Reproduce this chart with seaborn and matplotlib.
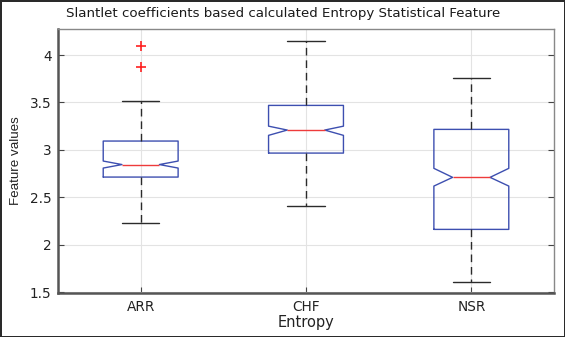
import matplotlib
matplotlib.use("Agg")
import matplotlib.pyplot as plt
import seaborn as sns

categories = ["ARR", "CHF", "NSR"]
whisker_low = [2.225, 2.41, 1.605]
q1 = [2.713, 2.966, 2.161]
median = [2.845, 3.209, 2.71]
q3 = [3.093, 3.469, 3.216]
whisker_high = [3.515, 4.151, 3.757]
notch_low = [2.808, 3.153, 2.618]
notch_high = [2.882, 3.25, 2.805]
outliers = [[4.098, 3.873], [], []]
yticks = [1.5, 2, 2.5, 3, 3.5, 4]
ytick_labels = ["1.5", "2", "2.5", "3", "3.5", "4"]

sns.set_style("whitegrid")
plt.rcParams['font.family'] = ['DejaVu Sans']

fig = plt.figure(figsize=(5.65, 3.37), dpi=100)
fig.patch.set_edgecolor("#2a2a2a")
fig.patch.set_linewidth(2.0)
ax = fig.add_axes([58/565, 1 - 293/337, (554-58)/565, (293-29)/337])

stats = []
for i, c in enumerate(categories):
    stats.append(dict(label=c, whislo=whisker_low[i], q1=q1[i], med=median[i],
                      q3=q3[i], whishi=whisker_high[i], cilo=notch_low[i],
                      cihi=notch_high[i], fliers=outliers[i]))

ax.bxp(stats, positions=[1, 2, 3], widths=0.453, shownotches=True,
       boxprops=dict(color="#3d4fb0", linewidth=1.0),
       medianprops=dict(color="#ee3b3b", linewidth=1.0),
       whiskerprops=dict(color="#2b2b2b", linewidth=1.0, linestyle=(0, (5.5, 3.5))),
       capprops=dict(color="#2b2b2b", linewidth=1.0),
       flierprops=dict(marker="+", markeredgecolor="#ff2020", markersize=7, markeredgewidth=1.2,
                       linestyle="none"))

ax.set_xlim(0.5, 3.5)
ax.set_ylim(1.49, 4.275)
ax.set_yticks(yticks)
ax.set_yticklabels(ytick_labels)
ax.set_xticks([1, 2, 3])
ax.set_xticklabels(categories)

ax.grid(True, color="#e3e3e3", linewidth=0.8)
ax.set_axisbelow(True)
ax.tick_params(axis="both", direction="in", length=4, width=0.8, color="#444444",
               labelsize=9.8, labelcolor="#222222", right=True, left=True,
               bottom=True, top=False)
ax.tick_params(axis="y", pad=4.5)
ax.tick_params(axis="x", pad=5)
for s in ["left", "bottom"]:
    ax.spines[s].set_color("#555555")
    ax.spines[s].set_linewidth(1.8)
for s in ["top", "right"]:
    ax.spines[s].set_color("#888888")
    ax.spines[s].set_linewidth(1.0)
for s in ax.spines.values():
    s.set_visible(True)

fig.text(283/565, 1 - 14/337, "Slantlet coefficients based calculated Entropy Statistical Feature",
         fontsize=9.6, color="#1a1a1a", ha="center", va="center")
ax.set_xlabel("Entropy", fontsize=10.5, color="#222222", labelpad=1)
ax.set_ylabel("Feature values", fontsize=9.6, color="#222222", labelpad=6,
              family=["Liberation Sans"])

fig.savefig("out.png", dpi=100, edgecolor=fig.get_edgecolor(), facecolor="white")
